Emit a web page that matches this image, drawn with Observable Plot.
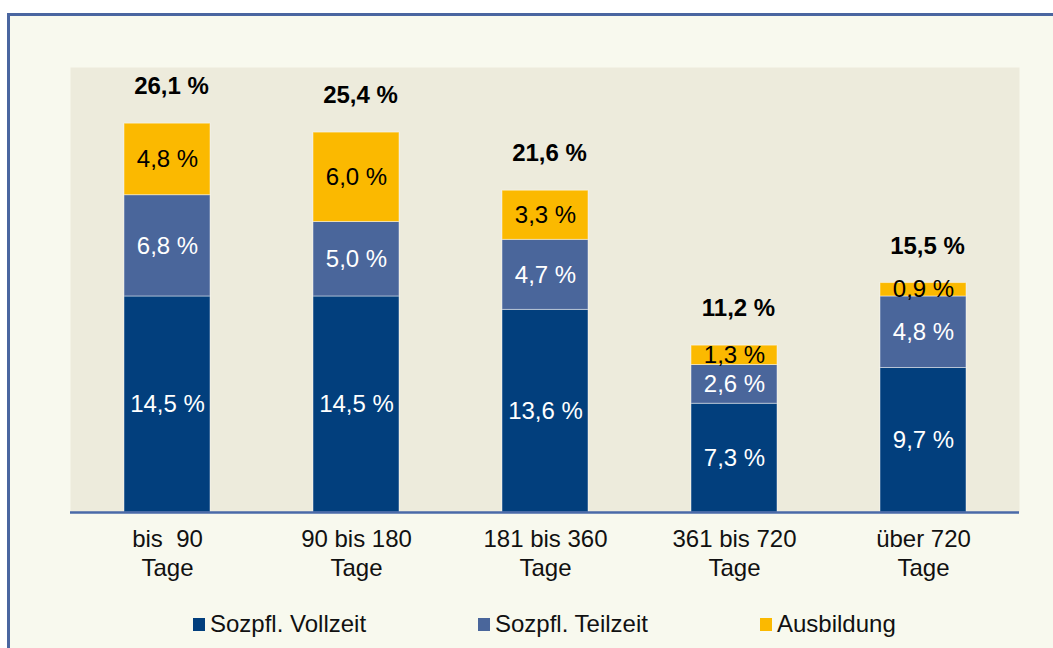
<!DOCTYPE html>
<html><head><meta charset="utf-8">
<script src="https://cdn.jsdelivr.net/npm/d3@7"></script>
<script src="https://cdn.jsdelivr.net/npm/@observablehq/plot@0.6"></script>
<style>
body{margin:0;background:#fff;font-family:"Liberation Sans",Arial,sans-serif;}
#wrap{position:relative;width:1053px;height:648px;overflow:hidden;}
#box{position:absolute;left:7px;top:13px;width:1100px;height:700px;border:3px solid #4a66a0;background:#f8f9ee;box-sizing:border-box;}
#chart{position:absolute;left:0;top:0;}
#legend{position:absolute;top:610px;left:0;width:1053px;height:28px;font-size:24px;color:#111;}
.item{position:absolute;top:0;display:flex;align-items:center;white-space:nowrap;}
.sw{width:12px;height:13px;margin-right:5px;}
</style></head>
<body>
<div id="wrap"><div id="box"></div><div id="chart"></div><div id="legend"></div></div>
<script>
const categories = ["bis\u00a0 90\nTage", "90 bis 180\nTage", "181 bis 360\nTage", "361 bis 720\nTage", "über 720\nTage"];
const series = ["Sozpfl. Vollzeit", "Sozpfl. Teilzeit", "Ausbildung"];
const colors = ["#023f7d", "#4a669b", "#fbb900"];
const vollzeit = [14.5, 14.5, 13.6, 7.3, 9.7];
const teilzeit = [6.8, 5.0, 4.7, 2.6, 4.8];
const ausbildung = [4.8, 6.0, 3.3, 1.3, 0.9];
const totals = [26.1, 25.4, 21.6, 11.2, 15.5];

const values = [vollzeit, teilzeit, ausbildung];
const fmt = v => v.toFixed(1).replace(".", ",") + " %";
const table = categories.flatMap((c, i) => series.map((s, j) => ({cat: c, series: s, value: values[j][i]})));
const totalTable = categories.map((c, i) => ({cat: c, total: totals[i], top: vollzeit[i] + teilzeit[i] + ausbildung[i]}));

const chart = Plot.plot({
  width: 1053, height: 648,
  marginLeft: 70, marginRight: 34, marginTop: 67, marginBottom: 136,
  style: {background: "transparent", fontFamily: "'Liberation Sans', Arial, sans-serif", overflow: "visible"},
  x: {domain: categories, paddingInner: 0.547, paddingOuter: 0.2735, align: 0.5},
  y: {domain: [0, 29.87], axis: null},
  color: {domain: series, range: colors},
  marks: [
    Plot.frame({fill: "#edebdc", stroke: null}),
    Plot.barY(table, Plot.stackY({x: "cat", y: "value", fill: "series", stroke: "#ffffff", strokeOpacity: 0.45, strokeWidth: 1})),
    Plot.text(table, Plot.stackY({x: "cat", y: "value", text: d => d.series === "Ausbildung" ? null : fmt(d.value), fill: "white", fontSize: 24})),
    Plot.text(table, Plot.stackY({x: "cat", y: "value", text: d => d.series === "Ausbildung" ? fmt(d.value) : null, fill: "black", fontSize: 24})),
    Plot.text(totalTable, {x: "cat", y: "top", text: d => fmt(d.total), dy: -37, dx: 4, fontWeight: "bold", fontSize: 24, fill: "black"}),
    Plot.ruleY([0], {stroke: "#4a6aa8", strokeWidth: 2.5}),
    Plot.axisX({tickSize: 0, tickPadding: 15, fontSize: 24, lineHeight: 1.17, fill: "#111", tickFormat: d => d, label: null})
  ]
});
document.getElementById("chart").appendChild(chart);

const legend = document.getElementById("legend");
const lefts = [193, 478, 760];
series.forEach((s, j) => {
  const it = document.createElement("div");
  it.className = "item";
  it.style.left = lefts[j] + "px";
  it.innerHTML = `<span class="sw" style="background:${colors[j]}"></span><span>${s}</span>`;
  legend.appendChild(it);
});
</script>
</body></html>
